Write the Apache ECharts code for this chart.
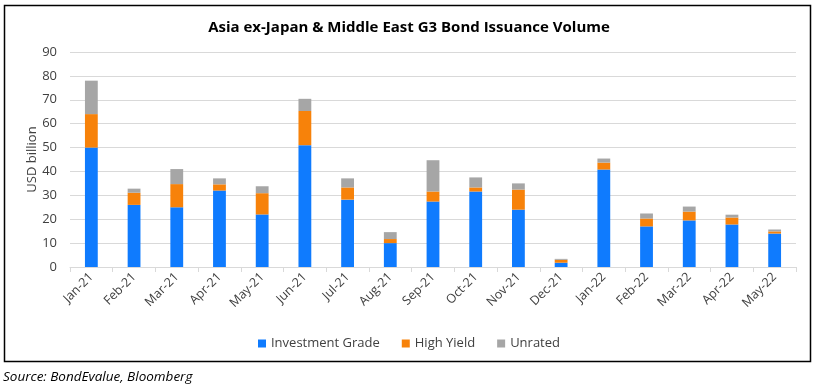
<!DOCTYPE html>
<html><head><meta charset="utf-8">
<script src="https://cdn.jsdelivr.net/npm/echarts@6/dist/echarts.min.js"></script>
<style>html,body{margin:0;padding:0;background:#fff}#c{width:818px;height:392px}</style>
</head><body><div id="c"></div>
<script>
const categories = ['Jan-21','Feb-21','Mar-21','Apr-21','May-21','Jun-21','Jul-21','Aug-21','Sep-21','Oct-21','Nov-21','Dec-21','Jan-22','Feb-22','Mar-22','Apr-22','May-22'];
const investmentGrade = [50, 26, 25, 32, 22, 51, 28.2, 10, 27.4, 31.6, 24, 1.8, 40.8, 17, 19.5, 17.8, 14];
const highYield = [14, 5.1, 9.7, 2.6, 8.9, 14.3, 5.1, 1.7, 4.2, 1.7, 8.4, 1.2, 2.9, 3.3, 3.7, 2.9, 0.9];
const unrated = [14, 1.7, 6.3, 2.5, 2.9, 5.1, 3.8, 2.9, 13.1, 4.2, 2.6, 0.4, 1.7, 2.1, 2.1, 1.2, 0.8];
const yTicks = {min: 0, max: 90, interval: 10};

const FONT = '"Open Sans", "Noto Sans", sans-serif';
const chart = echarts.init(document.getElementById('c'), null, {renderer: 'canvas'});
const bar = (name, data, color) => ({
  name, type: 'bar', stack: 'total', data, barWidth: '30%',
  itemStyle: {color}, emphasis: {disabled: true}
});
chart.setOption({
  animation: false,
  backgroundColor: '#fff',
  title: {
    text: 'Asia ex-Japan & Middle East G3 Bond Issuance Volume',
    left: 'center', top: 15,
    textStyle: {fontFamily: FONT, fontSize: 15, fontWeight: 'bold', color: '#000'}
  },
  grid: {left: 70, right: 22, top: 52, bottom: 125},
  legend: {
    bottom: 37, left: 'center', itemWidth: 8, itemHeight: 8, itemGap: 22,
    icon: 'rect',
    textStyle: {fontFamily: FONT, fontSize: 13, color: '#404040'},
    data: ['Investment Grade', 'High Yield', 'Unrated']
  },
  xAxis: {
    type: 'category', data: categories,
    axisLine: {lineStyle: {color: '#D9D9D9'}},
    axisTick: {show: true, alignWithLabel: false, length: 5, lineStyle: {color: '#D9D9D9'}},
    axisLabel: {rotate: 45, fontFamily: FONT, fontSize: 12.5, color: '#404040', margin: 8, interval: 0}
  },
  yAxis: {
    type: 'value', min: yTicks.min, max: yTicks.max, interval: yTicks.interval,
    name: 'USD billion', nameLocation: 'middle', nameGap: 31, nameMoveOverlap: false,
    nameTextStyle: {fontFamily: FONT, fontSize: 13, color: '#404040'},
    axisLine: {show: false}, axisTick: {show: false},
    splitLine: {lineStyle: {color: '#D9D9D9'}},
    axisLabel: {fontFamily: FONT, fontSize: 13, color: '#404040', margin: 13}
  },
  series: [
    bar('Investment Grade', investmentGrade, '#0F7BFE'),
    bar('High Yield', highYield, '#F7820A'),
    bar('Unrated', unrated, '#A6A6A6')
  ],
  graphic: [
    {type: 'rect', shape: {x: 4.5, y: 5.5, width: 806, height: 356},
     style: {fill: null, stroke: '#000', lineWidth: 1.5}, silent: true, z: 100},
    {type: 'text', left: 3, top: 370,
     style: {text: 'Source: BondEvalue, Bloomberg', font: 'italic 13.5px ' + FONT, fill: '#000'}}
  ]
});
</script></body></html>
